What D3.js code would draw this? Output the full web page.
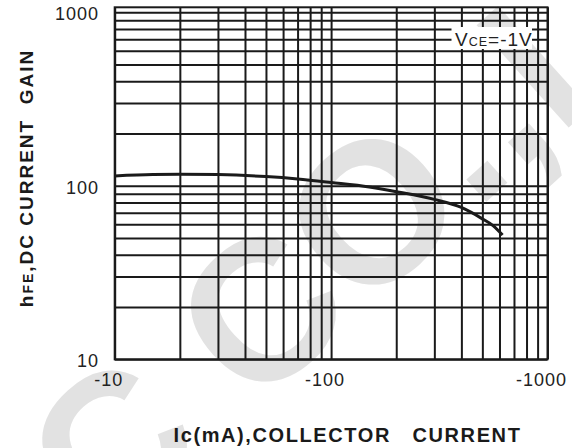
<!DOCTYPE html>
<html>
<head>
<meta charset="utf-8">
<script src="https://cdn.jsdelivr.net/npm/d3@7"></script>
<style>
  body { margin: 0; background: #fff; }
  svg { display: block; font-family: "Liberation Sans", Arial, sans-serif; }
</style>
</head>
<body>
<svg id="chart" width="572" height="448"></svg>
<script>
// Collector current magnitude (mA) and DC current gain along the curve
const currentMA = [10, 15, 20, 30, 50, 70, 100, 150, 200, 300, 400, 500, 560, 620];
const hfe = [114, 116, 116.5, 116, 113, 109.5, 104.5, 98.5, 92.5, 83.5, 75, 64.5, 59, 52];

// Axis ticks and labels
const xTickValues = [10, 100, 1000];
const xTickLabels = ["-10", "-100", "-1000"];
const yTickValues = [10, 100, 1000];
const yTickLabels = ["10", "100", "1000"];

// Log grid: every 1..9 multiple of each decade
const gridValues = [10, 20, 30, 40, 50, 60, 70, 80, 90, 100, 200, 300, 400, 500, 600, 700, 800, 900, 1000];

const conditionLabel = { main: "V", sub: "CE", rest: "=-1V" };
const watermarkText = "IC CO.,LTD";

const svg = d3.select("#chart");
const plotLeft = 114.7, plotRight = 547.5, plotTop = 12.3, plotBottom = 359.3;

const x = d3.scaleLog().domain([10, 1000]).range([plotLeft, plotRight]);
const y = d3.scaleLog().domain([10, 1000]).range([plotBottom, plotTop]);

// Faint background watermark
const fs = 200;
svg.append("g")
  .attr("transform", "translate(259,310) rotate(-42)")
  .append("text")
  .attr("x", -1.639 * fs)
  .attr("y", 0.358 * fs)
  .attr("font-size", fs)
  .attr("font-weight", "bold")
  .attr("fill", "#e2e2e2")
  .text(watermarkText);

const ink = "#1a1a1a";

// Vertical grid lines
svg.append("g")
  .attr("transform", `translate(0,${plotBottom})`)
  .call(d3.axisBottom(x).tickValues(gridValues).tickSize(-(plotBottom - plotTop + 5)).tickFormat(""))
  .call(g => g.select(".domain").remove())
  .call(g => g.selectAll("line").attr("stroke", ink).attr("stroke-width", 2));

// Horizontal grid lines
svg.append("g")
  .attr("transform", `translate(${plotLeft},0)`)
  .call(d3.axisLeft(y).tickValues(gridValues).tickSize(-(plotRight - plotLeft)).tickFormat(""))
  .call(g => g.select(".domain").remove())
  .call(g => g.selectAll("line").attr("stroke", ink).attr("stroke-width", 2));

// Frame
svg.append("rect")
  .attr("x", plotLeft).attr("y", plotTop - 5)
  .attr("width", plotRight - plotLeft).attr("height", plotBottom - plotTop + 5)
  .attr("fill", "none").attr("stroke", ink).attr("stroke-width", 2);

// Gain curve
const line = d3.line()
  .x((d, i) => x(currentMA[i]))
  .y((d, i) => y(hfe[i]))
  .curve(d3.curveMonotoneX);
svg.append("path")
  .datum(hfe)
  .attr("d", line)
  .attr("fill", "none")
  .attr("stroke", ink)
  .attr("stroke-width", 3);

// Test condition label on a white patch
const lab = svg.append("g");
lab.append("rect")
  .attr("x", 451.5).attr("y", 27).attr("width", 80.5).attr("height", 22)
  .attr("fill", "#fff");
const lt = lab.append("text")
  .attr("x", 455).attr("y", 45.5)
  .attr("fill", "#222")
  .attr("letter-spacing", 1);
lt.append("tspan").attr("font-size", 19).text(conditionLabel.main);
lt.append("tspan").attr("font-size", 12.5).text(conditionLabel.sub);
lt.append("tspan").attr("font-size", 19).text(conditionLabel.rest);

// Tick labels
svg.append("g").selectAll("text")
  .data(yTickValues)
  .join("text")
  .attr("x", 99)
  .attr("y", d => y(d) + 3)
  .attr("text-anchor", "end")
  .attr("dominant-baseline", "middle")
  .attr("font-size", 18)
  .attr("letter-spacing", 1)
  .attr("fill", "#222")
  .text((d, i) => yTickLabels[i]);

svg.append("g").selectAll("text")
  .data(xTickValues)
  .join("text")
  .attr("x", d => x(d) - 6)
  .attr("y", 386)
  .attr("text-anchor", "middle")
  .attr("font-size", 18)
  .attr("letter-spacing", 1)
  .attr("fill", "#222")
  .text((d, i) => xTickLabels[i]);

// Axis titles
const yt = svg.append("text")
  .attr("transform", "translate(33,178) rotate(-90)")
  .attr("text-anchor", "middle")
  .attr("font-weight", "bold")
  .attr("font-size", 19)
  .attr("letter-spacing", 2)
  .attr("fill", "#1a1a1a");
yt.append("tspan").text("h");
yt.append("tspan").attr("font-size", 14).text("FE");
yt.append("tspan").text(",DC CURRENT\u00a0\u00a0GAIN");

svg.append("text")
  .attr("x", 347.5).attr("y", 441.7)
  .attr("text-anchor", "middle")
  .attr("font-weight", "bold")
  .attr("font-size", 20)
  .attr("letter-spacing", 1.6)
  .attr("fill", "#1a1a1a")
  .text("Ic(mA),COLLECTOR\u00a0\u00a0\u00a0CURRENT");
</script>
</body>
</html>
